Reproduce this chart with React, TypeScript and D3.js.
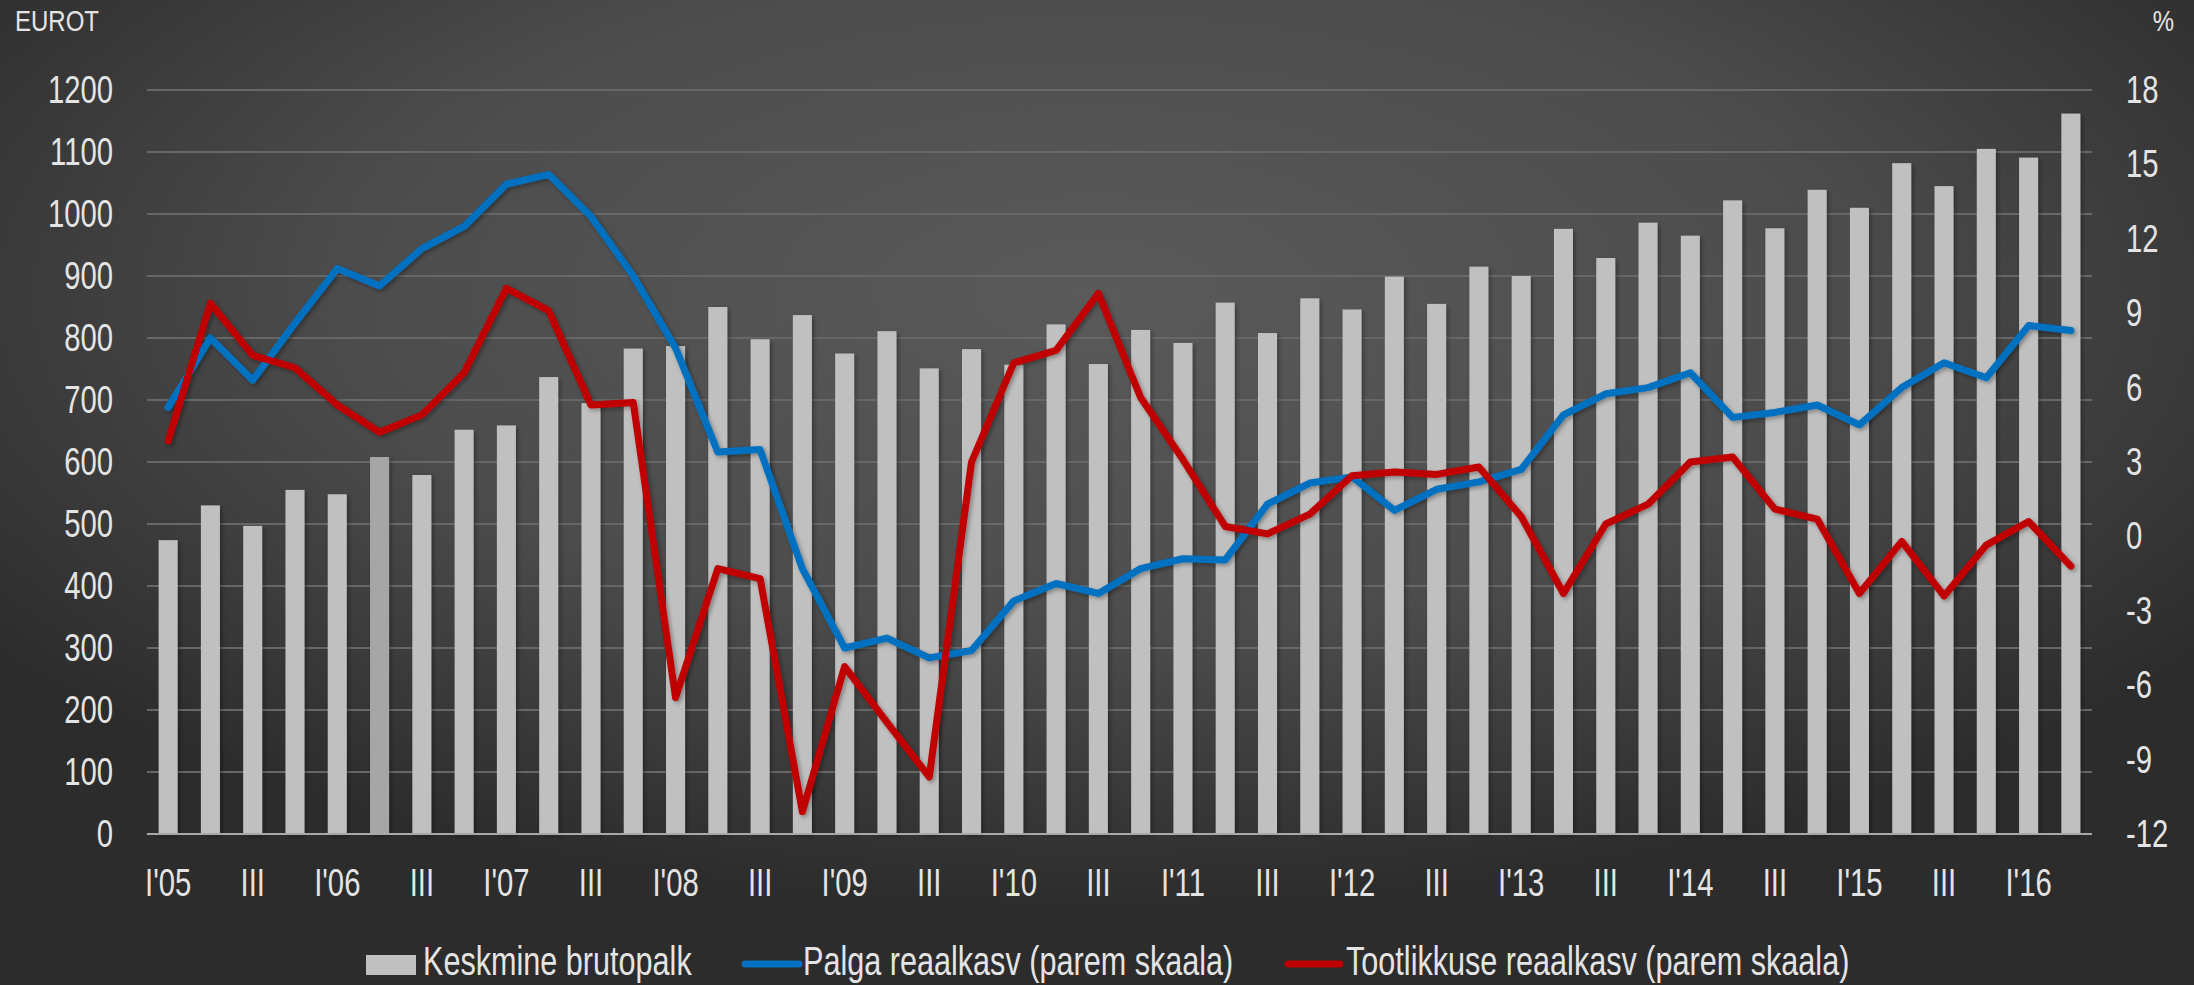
import React from "react";
import * as d3 from "d3";

// quarters 2005 Q1 .. 2016 Q2
const quarters = [
  "2005Q1", "2005Q2", "2005Q3", "2005Q4",
  "2006Q1", "2006Q2", "2006Q3", "2006Q4",
  "2007Q1", "2007Q2", "2007Q3", "2007Q4",
  "2008Q1", "2008Q2", "2008Q3", "2008Q4",
  "2009Q1", "2009Q2", "2009Q3", "2009Q4",
  "2010Q1", "2010Q2", "2010Q3", "2010Q4",
  "2011Q1", "2011Q2", "2011Q3", "2011Q4",
  "2012Q1", "2012Q2", "2012Q3", "2012Q4",
  "2013Q1", "2013Q2", "2013Q3", "2013Q4",
  "2014Q1", "2014Q2", "2014Q3", "2014Q4",
  "2015Q1", "2015Q2", "2015Q3", "2015Q4",
  "2016Q1", "2016Q2",
];

// tick label shown under every second quarter
const tickLabels = [
  "I'05", "III", "I'06", "III", "I'07", "III", "I'08", "III", "I'09", "III",
  "I'10", "III", "I'11", "III", "I'12", "III", "I'13", "III", "I'14", "III",
  "I'15", "III", "I'16",
];

// Keskmine brutopalk, eurot
const wages = [
  474, 530, 497, 555, 548, 608, 579, 652, 659, 737, 695, 783,
  787, 850, 798, 837, 775, 811, 751, 782, 757, 822, 758, 813,
  792, 857, 808, 864, 846, 899, 855, 915, 900, 976, 929, 986,
  965, 1022, 977, 1039, 1010, 1082, 1045, 1105, 1091, 1162,
];

// Palga reaalkasv, %
const wageGrowth = [
  5.2, 8.0, 6.3, 8.6, 10.8, 10.1, 11.6, 12.5, 14.2, 14.6, 12.9, 10.5,
  7.6, 3.4, 3.5, -1.3, -4.5, -4.1, -4.9, -4.6, -2.6, -1.9, -2.3, -1.3,
  -0.9, -0.95, 1.3, 2.15, 2.4, 1.05, 1.9, 2.2, 2.7, 4.9, 5.75, 6.0,
  6.6, 4.8, 5.0, 5.3, 4.5, 6.0, 7.0, 6.4, 8.5, 8.3,
];

// Tootlikkuse reaalkasv, %
const productivityGrowth = [
  3.85, 9.4, 7.3, 6.8, 5.3, 4.2, 4.9, 6.6, 10.0, 9.1, 5.3, 5.4,
  -6.5, -1.3, -1.7, -11.1, -5.25, -7.5, -9.7, 3.0, 7.0, 7.5, 9.8, 5.6,
  3.1, 0.4, 0.1, 0.9, 2.45, 2.6, 2.5, 2.8, 0.8, -2.3, 0.5, 1.3,
  3.0, 3.2, 1.1, 0.7, -2.3, -0.2, -2.4, -0.35, 0.6, -1.2,
];

const leftTicks = [0, 100, 200, 300, 400, 500, 600, 700, 800, 900, 1000, 1100, 1200];
const rightTicks = [-12, -9, -6, -3, 0, 3, 6, 9, 12, 15, 18];

const W = 2194, H = 985;
const plot = { left: 147, right: 2092, top: 90, bottom: 834 };
const font = "'Liberation Sans', Arial, sans-serif";
const txt = "#e4e4e4";

// narrow text: the original uses a condensed face
const Label = ({ x, y, anchor = "start", size = 38, sx = 0.77, children }: any) => (
  <text
    transform={`translate(${x},${y}) scale(${sx},1)`}
    textAnchor={anchor}
    fontSize={size}
    fontFamily={font}
    fill={txt}
  >
    {children}
  </text>
);

export default function App() {
  const x = d3.scaleBand<string>().domain(quarters).range([plot.left, plot.right]).paddingInner(0.55).paddingOuter(0.275);
  const yL = d3.scaleLinear().domain([0, 1200]).range([plot.bottom, plot.top]);
  const yR = d3.scaleLinear().domain([-12, 18]).range([plot.bottom, plot.top]);
  const cx = (i: number) => (x(quarters[i]) as number) + x.bandwidth() / 2;

  const line = d3.line<number>().x((_, i) => cx(i)).y(d => yR(d));

  return (
    <svg width={W} height={H} style={{ position: "absolute", left: 0, top: 0, display: "block" }}>
      <defs>
        <radialGradient id="bg" cx="0.5" cy="0.3" r="0.62">
          <stop offset="0" stopColor="#5a5a5a" />
          <stop offset="0.55" stopColor="#4c4c4c" />
          <stop offset="1" stopColor="#2c2c2c" />
        </radialGradient>
        <filter id="sh" x="-10%" y="-10%" width="130%" height="130%">
          <feDropShadow dx="2" dy="2" stdDeviation="2" floodColor="#000" floodOpacity="0.35" />
        </filter>
      </defs>
      <rect width={W} height={H} fill="url(#bg)" />

      {leftTicks.filter(t => t > 0).map(t => (
        <line key={t} x1={plot.left} x2={plot.right} y1={yL(t)} y2={yL(t)} stroke="#676767" strokeWidth={2} />
      ))}

      <g filter="url(#sh)">
        {wages.map((v, i) => (
          <rect
            key={i}
            x={x(quarters[i])}
            y={yL(v)}
            width={x.bandwidth()}
            height={yL(0) - yL(v)}
            fill={i === 5 ? "#a6a6a6" : "#c0c0c0"}
          />
        ))}
      </g>
      <line x1={plot.left} x2={plot.right} y1={yL(0)} y2={yL(0)} stroke="#a8a8a8" strokeWidth={2} />

      <g filter="url(#sh)" fill="none" strokeWidth={7} strokeLinejoin="round" strokeLinecap="round">
        <path d={line(wageGrowth) || ""} stroke="#0070c0" />
        <path d={line(productivityGrowth) || ""} stroke="#c00000" />
      </g>

      {leftTicks.map(t => (
        <Label key={t} x={113} y={yL(t) + 13} anchor="end">{t}</Label>
      ))}
      {rightTicks.map(t => (
        <Label key={t} x={2126} y={yR(t) + 13}>{t}</Label>
      ))}
      {tickLabels.map((l, k) => (
        <Label key={k} x={cx(k * 2)} y={896} anchor="middle">{l}</Label>
      ))}

      <Label x={15} y={31} size={30} sx={0.8}>EUROT</Label>
      <Label x={2174} y={31} size={30} sx={0.8} anchor="end">%</Label>

      <rect x={366} y={955} width={50} height={20} fill="#c0c0c0" />
      <Label x={423} y={975} size={40} sx={0.765}>Keskmine brutopalk</Label>
      <line x1={745} x2={799} y1={964} y2={964} stroke="#0070c0" strokeWidth={7} strokeLinecap="round" />
      <Label x={803} y={975} size={40} sx={0.765}>Palga reaalkasv (parem skaala)</Label>
      <line x1={1288} x2={1340} y1={964} y2={964} stroke="#c00000" strokeWidth={7} strokeLinecap="round" />
      <Label x={1346} y={975} size={40} sx={0.765}>Tootlikkuse reaalkasv (parem skaala)</Label>
    </svg>
  );
}
